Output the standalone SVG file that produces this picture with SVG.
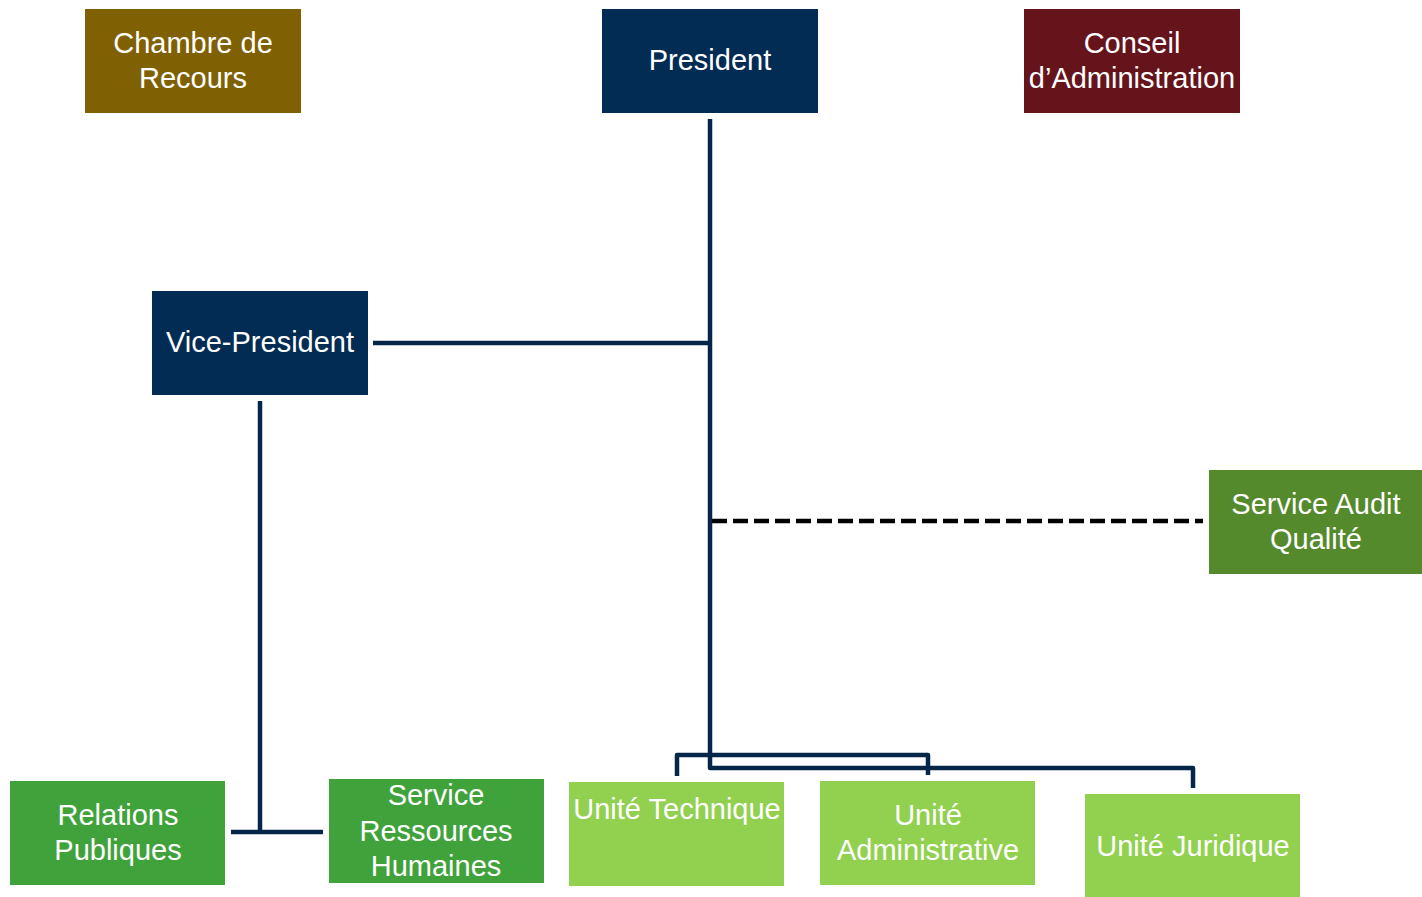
<svg xmlns="http://www.w3.org/2000/svg" width="1422" height="897" viewBox="0 0 1422 897">
<style>
.lbl{font-family:"Liberation Sans",Arial,sans-serif;font-size:29px;fill:#ffffff;text-anchor:middle}
.ln{fill:none;stroke:#052549;stroke-width:4.5;stroke-linejoin:round}
.dash{fill:none;stroke:#000000;stroke-width:4.5;stroke-dasharray:15 6}
</style>
<rect width="1422" height="897" fill="#ffffff"/>
<g id="connectors">
<path class="ln" d="M710,119 V768 H1193 V788"/>
<path class="ln" d="M373,343 H710"/>
<path class="ln" d="M677,776 V755 H928 V775"/>
<path class="ln" d="M260,401 V832"/>
<path class="ln" d="M231,832 H323"/>
<path class="dash" d="M712,521 H1203"/>
</g>
<g id="chambre">
<rect x="85" y="9" width="216" height="104" fill="#7F6003"/>
<text class="lbl" x="193" y="53">Chambre de</text>
<text class="lbl" x="193" y="88">Recours</text>
</g>
<g id="president">
<rect x="602" y="9" width="216" height="104" fill="#022C53"/>
<text class="lbl" x="710" y="70">President</text>
</g>
<g id="conseil">
<rect x="1024" y="9" width="216" height="104" fill="#66141B"/>
<text class="lbl" x="1132" y="53">Conseil</text>
<text class="lbl" x="1132" y="88">d’Administration</text>
</g>
<g id="vice-president">
<rect x="152" y="291" width="216" height="104" fill="#022C53"/>
<text class="lbl" x="260" y="352">Vice-President</text>
</g>
<g id="audit">
<rect x="1209" y="470" width="213" height="104" fill="#548A2C"/>
<text class="lbl" x="1316" y="514">Service Audit</text>
<text class="lbl" x="1316" y="549">Qualité</text>
</g>
<g id="relations">
<rect x="10" y="781" width="215" height="104" fill="#40A23A"/>
<text class="lbl" x="118" y="825">Relations</text>
<text class="lbl" x="118" y="860">Publiques</text>
</g>
<g id="rh">
<rect x="329" y="779" width="215" height="104" fill="#40A23A"/>
<text class="lbl" x="436" y="805">Service</text>
<text class="lbl" x="436" y="841">Ressources</text>
<text class="lbl" x="436" y="876">Humaines</text>
</g>
<g id="technique">
<rect x="569" y="782" width="215" height="104" fill="#92D050"/>
<text class="lbl" x="677" y="819">Unité Technique</text>
</g>
<g id="administrative">
<rect x="820" y="781" width="215" height="104" fill="#92D050"/>
<text class="lbl" x="928" y="825">Unité</text>
<text class="lbl" x="928" y="860">Administrative</text>
</g>
<g id="juridique">
<rect x="1085" y="794" width="215" height="103" fill="#92D050"/>
<text class="lbl" x="1193" y="856">Unité Juridique</text>
</g>
</svg>
